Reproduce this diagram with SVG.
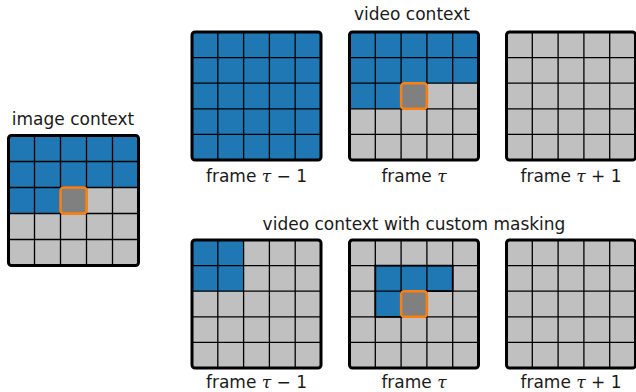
<svg xmlns="http://www.w3.org/2000/svg" xmlns:xlink="http://www.w3.org/1999/xlink" width="636" height="392" viewBox="0 0 636 392">
  <style>
    .bg { fill: #c0c0c0; }
    .vis { fill: #1f77b4; }
    .lines { fill: none; stroke: #000; stroke-width: 1.3; }
    .border { fill: none; stroke: #000; stroke-width: 3; }
    .query { fill: #808080; stroke: #ff7f0e; stroke-width: 2.5; }
    .label { font-family: "DejaVu Sans", "Liberation Sans", sans-serif; font-size: 17px; fill: #1a1a1a; text-anchor: middle; }
    .math { font-family: "DejaVu Serif", "Liberation Serif", serif; font-style: italic; }
  </style>
  <defs>
    <!-- 5x5 grid, 129 x 128, cells 25.8 x 25.6 -->
    <rect id="grid-bg" class="bg" x="0" y="0" width="129" height="128"/>
    <path id="grid-lines" class="lines" d="M25.8 0V128M51.6 0V128M77.4 0V128M103.2 0V128M0 25.6H129M0 51.2H129M0 76.8H129M0 102.4H129"/>
    <rect id="grid-border" class="border" x="0" y="0" width="129" height="128" rx="3"/>
    <rect id="query-cell" class="query" x="51.6" y="51.2" width="25.8" height="25.6" rx="3"/>
    <!-- causal context: first two rows plus two cells of the third -->
    <path id="causal" class="vis" d="M0 0H129V51.2H51.6V76.8H0Z"/>
  </defs>

  <!-- image context -->
  <g id="image-context">
    <text class="label" x="73" y="125">image context</text>
    <g transform="translate(8.5,135.5) scale(1.0078,1.0156)">
      <use xlink:href="#grid-bg"/>
      <use xlink:href="#causal"/>
      <use xlink:href="#grid-lines"/>
      <use xlink:href="#query-cell"/>
      <use xlink:href="#grid-border"/>
    </g>
  </g>

  <!-- video context -->
  <g id="video-context-title">
    <text class="label" x="412" y="20">video context</text>
  </g>

  <g id="video-prev">
    <g transform="translate(192,32)">
      <rect class="vis" x="0" y="0" width="129" height="128"/>
      <use xlink:href="#grid-lines"/>
      <use xlink:href="#grid-border"/>
    </g>
    <text class="label" x="256.5" y="182">frame <tspan class="math">τ</tspan> − 1</text>
  </g>

  <g id="video-current">
    <g transform="translate(349.5,32)">
      <use xlink:href="#grid-bg"/>
      <use xlink:href="#causal"/>
      <use xlink:href="#grid-lines"/>
      <use xlink:href="#query-cell"/>
      <use xlink:href="#grid-border"/>
    </g>
    <text class="label" x="414" y="182">frame <tspan class="math">τ</tspan></text>
  </g>

  <g id="video-next">
    <g transform="translate(506.5,32)">
      <use xlink:href="#grid-bg"/>
      <use xlink:href="#grid-lines"/>
      <use xlink:href="#grid-border"/>
    </g>
    <text class="label" x="571" y="182">frame <tspan class="math">τ</tspan> + 1</text>
  </g>

  <!-- video context with custom masking -->
  <g id="masked-title">
    <text class="label" x="414" y="230">video context with custom masking</text>
  </g>

  <g id="masked-prev">
    <g transform="translate(192,240)">
      <use xlink:href="#grid-bg"/>
      <rect class="vis" x="0" y="0" width="51.6" height="51.2"/>
      <use xlink:href="#grid-lines"/>
      <use xlink:href="#grid-border"/>
    </g>
    <text class="label" x="256.5" y="388">frame <tspan class="math">τ</tspan> − 1</text>
  </g>

  <g id="masked-current">
    <g transform="translate(349.5,240)">
      <use xlink:href="#grid-bg"/>
      <path class="vis" d="M25.8 25.6H103.2V51.2H51.6V76.8H25.8Z"/>
      <use xlink:href="#grid-lines"/>
      <path class="lines" d="M25.8 25.6H103.2V51.2H51.6V76.8H25.8Z" style="stroke-width:1.8"/>
      <use xlink:href="#query-cell"/>
      <use xlink:href="#grid-border"/>
    </g>
    <text class="label" x="414" y="388">frame <tspan class="math">τ</tspan></text>
  </g>

  <g id="masked-next">
    <g transform="translate(506.5,240)">
      <use xlink:href="#grid-bg"/>
      <use xlink:href="#grid-lines"/>
      <use xlink:href="#grid-border"/>
    </g>
    <text class="label" x="571" y="388">frame <tspan class="math">τ</tspan> + 1</text>
  </g>

  <!-- no connectors in this figure -->
  <g id="connectors"/>
</svg>
